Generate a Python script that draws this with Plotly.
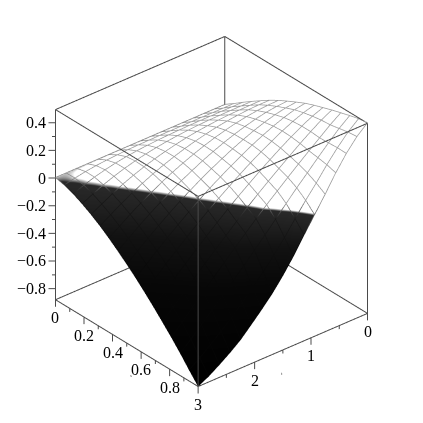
import plotly.graph_objects as go

# mesh sampling of the surface
s_mesh = [i / 16 for i in range(17)]
t_mesh = [i * 3 / 16 for i in range(17)]

# surface heights: one list per s value, running over t_mesh
z_s00 = [.000,.000,.000,.000,.000,.000,.000,.000,.000,.000,.000,.000,.000,.000,.000,.000,.000]
z_s01 = [.045,.045,.045,.046,.046,.046,.046,.046,.045,.044,.042,.038,.033,.026,.016,.002,-.014]
z_s02 = [.093,.094,.094,.094,.094,.093,.091,.089,.085,.080,.073,.064,.051,.035,.015,-.010,-.039]
z_s03 = [.139,.139,.139,.138,.137,.134,.129,.123,.114,.103,.089,.072,.052,.027,-.001,-.035,-.072]
z_s04 = [.183,.183,.182,.180,.175,.168,.159,.147,.132,.114,.093,.069,.041,.010,-.027,-.068,-.110]
z_s05 = [.226,.226,.223,.217,.208,.196,.180,.162,.141,.116,.088,.057,.022,-.017,-.059,-.106,-.153]
z_s06 = [.264,.262,.256,.246,.232,.214,.193,.168,.140,.109,.075,.037,-.005,-.049,-.097,-.150,-.202]
z_s07 = [.298,.293,.283,.267,.247,.223,.196,.165,.131,.093,.053,.009,-.038,-.088,-.141,-.199,-.255]
z_s08 = [.330,.321,.305,.283,.256,.225,.191,.153,.113,.070,.024,-.025,-.078,-.133,-.191,-.252,-.311]
z_s09 = [.361,.347,.324,.295,.261,.224,.183,.139,.093,.045,-.007,-.062,-.121,-.180,-.242,-.308,-.371]
z_s10 = [.386,.365,.335,.299,.258,.215,.168,.118,.065,.011,-.046,-.107,-.169,-.234,-.299,-.369,-.435]
z_s11 = [.408,.379,.340,.296,.248,.197,.144,.088,.031,-.030,-.093,-.158,-.224,-.293,-.362,-.433,-.502]
z_s12 = [.430,.390,.340,.287,.230,.172,.113,.052,-.011,-.078,-.147,-.216,-.285,-.356,-.428,-.502,-.572]
z_s13 = [.449,.395,.334,.273,.211,.147,.082,.016,-.053,-.124,-.197,-.270,-.343,-.418,-.493,-.571,-.644]
z_s14 = [.468,.408,.337,.263,.186,.111,.031,-.050,-.130,-.209,-.286,-.361,-.435,-.509,-.581,-.653,-.720]
z_s15 = [.485,.421,.341,.251,.152,.060,-.040,-.143,-.237,-.324,-.405,-.482,-.557,-.623,-.687,-.749,-.802]
z_s16 = [.495,.428,.339,.232,.110,-.005,-.118,-.238,-.345,-.441,-.524,-.601,-.677,-.737,-.791,-.841,-.880]
z_table = [z_s00,z_s01,z_s02,z_s03,z_s04,z_s05,z_s06,z_s07,z_s08,
           z_s09,z_s10,z_s11,z_s12,z_s13,z_s14,z_s15,z_s16]

s_range = [0, 1]
t_range = [0, 3]
z_range = [-.88, .495]
s_ticks = [0, .2, .4, .6, .8]
s_minor = [.1, .3, .5, .7, .9]
t_ticks = [0, 1, 2, 3]
t_minor = [.5, 1.5, 2.5]
z_ticks = [-.8, -.6, -.4, -.2, 0, .2, .4]
z_minor = [-.7, -.5, -.3, -.1, .1, .3]

surface_scale = [[0,'#000000'],[.35,'#070707'],[.5,'#121212'],[.635,'#292929'],[.642,'#ffffff'],[1,'#ffffff']]
mesh_scale = [[0,'#040404'],[.4,'#080808'],[.63,'#1a1a1a'],[.645,'#9a9a9a'],[1,'#9a9a9a']]

fig = go.Figure()
fig.add_trace(go.Surface(x=t_mesh, y=s_mesh, z=z_table, cmin=z_range[0], cmax=z_range[1], showscale=False,
    colorscale=surface_scale, lighting=dict(ambient=1, diffuse=0, specular=0, roughness=1, fresnel=0),
    hoverinfo='skip'))

# mesh lines, lifted a hair so they stay in front of the surface
LIFT = .004
mx, my, mz = [], [], []
for s, row in zip(s_mesh, z_table):
    mx += t_mesh + [None]; my += [s] * 17 + [None]; mz += [v + LIFT for v in row] + [None]
for j, t in enumerate(t_mesh):
    mx += [t] * 17 + [None]; my += s_mesh + [None]; mz += [row[j] + LIFT for row in z_table] + [None]
fig.add_trace(go.Scatter3d(x=mx, y=my, z=mz, mode='lines', connectgaps=False, hoverinfo='skip', showlegend=False,
    line=dict(width=1.5, color=[0 if v is None else v for v in mz], cmin=z_range[0], cmax=z_range[1],
              colorscale=mesh_scale)))

# box frame and tick marks
bx, by, bz = [], [], []
T0, T1 = t_range
S0, S1 = s_range
Z0, Z1 = z_range
for a, b in [((T0,S0,Z0),(T1,S0,Z0)),((T1,S0,Z0),(T1,S1,Z0)),((T1,S1,Z0),(T0,S1,Z0)),((T0,S1,Z0),(T0,S0,Z0)),
             ((T0,S0,Z1),(T1,S0,Z1)),((T1,S0,Z1),(T1,S1,Z1)),((T1,S1,Z1),(T0,S1,Z1)),((T0,S1,Z1),(T0,S0,Z1)),
             ((T0,S0,Z0),(T0,S0,Z1)),((T1,S0,Z0),(T1,S0,Z1)),((T1,S1,Z0),(T1,S1,Z1)),((T0,S1,Z0),(T0,S1,Z1))]:
    bx += [a[0], b[0], None]; by += [a[1], b[1], None]; bz += [a[2], b[2], None]
DZ, DT, DS = .0507, .0726, .0204
def down(x, y, l):
    bx.extend([x, x, None]); by.extend([y, y, None]); bz.extend([Z0, Z0 - l, None])
for v in s_ticks + [1]:
    down(T1, v, DZ)
for v in s_minor:
    down(T1, v, DZ / 2)
for v in t_ticks:
    down(v, S1, DZ)
for v in t_minor:
    down(v, S1, DZ / 2)
for v, f in [(v, 1) for v in z_ticks] + [(v, .5) for v in z_minor]:
    bx.extend([T1, T1 + DT * f, None]); by.extend([S0, S0 - DS * f, None]); bz.extend([v, v, None])
fig.add_trace(go.Scatter3d(x=bx, y=by, z=bz, mode='lines', line=dict(color='#4a4a4a', width=2),
                           hoverinfo='skip', showlegend=False))

font = dict(family='Liberation Serif', size=16, color='black')
ann = []
for v in s_ticks:
    ann.append(dict(x=T1, y=v, z=Z0, text=f'{v:g}', showarrow=False, yshift=-18, font=font))
for v in t_ticks:
    ann.append(dict(x=v, y=S1, z=Z0, text=f'{v:g}', showarrow=False, yshift=-18, font=font))
for v in z_ticks:
    ann.append(dict(x=T1, y=S0, z=v, text=f'{v:g}'.replace('-', '\u2212'), showarrow=False,
                    xanchor='right', xshift=-7, font=font))

hidden = dict(visible=False)
d = (.5532, .6566, .5126)
n = 1.91
K = 1.047
C = (-.029 * K, .0475 * K, -.0111 * K)
small = dict(size=5, family='Liberation Serif', color='#555')
fig.update_layout(width=423, height=423, margin=dict(l=0, r=0, t=0, b=0), paper_bgcolor='white', showlegend=False,
    scene=dict(domain=dict(x=[0, 1], y=[0, 1]),
        aspectmode='manual', aspectratio=dict(x=1.0333 * K, y=1.03 * K, z=1.0473 * K),
        camera=dict(projection=dict(type='orthographic'),
            eye=dict(x=C[0] + d[0] * n, y=C[1] + d[1] * n, z=C[2] + d[2] * n),
            up=dict(x=0, y=0, z=1), center=dict(x=C[0], y=C[1], z=C[2])),
        xaxis=dict(range=[-.01, 3.09], **hidden),
        yaxis=dict(range=[-.025, 1.005], **hidden),
        zaxis=dict(range=[-.94, .5], **hidden),
        annotations=ann),
    annotations=[
        dict(text='s', x=120/423, y=1-372/423, xref='paper', yref='paper', showarrow=False, font=small),
        dict(text='t', x=274/423, y=1-370/423, xref='paper', yref='paper', showarrow=False, font=small),
    ])
fig.write_html("out.html")
